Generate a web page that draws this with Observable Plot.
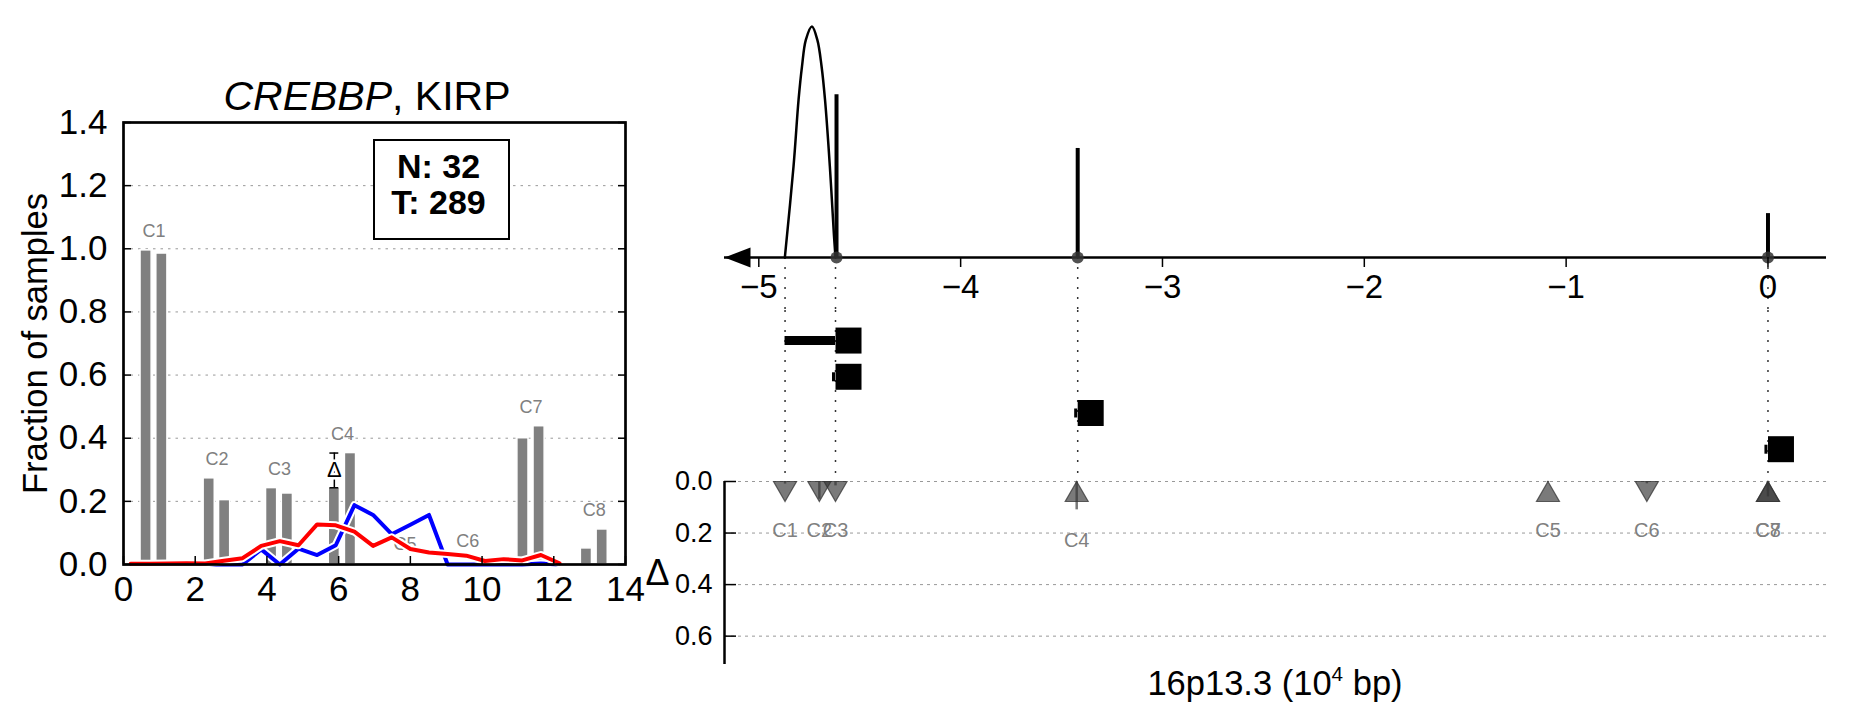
<!DOCTYPE html>
<html><head><meta charset="utf-8">
<script src="https://cdn.jsdelivr.net/npm/d3@7"></script>
<script src="https://cdn.jsdelivr.net/npm/@observablehq/plot@0.6"></script>
<style>
body{margin:0;background:#fff;}
#page{position:relative;width:1851px;height:718px;overflow:hidden;font-family:"Liberation Sans",Arial,sans-serif;background:#fff;}
#page > svg, #page > div{position:absolute;}
</style></head><body><div id="page"></div>
<script>
// ---------- left panel data ----------
const clusters = ["C1","C2","C3","C4","C5","C6","C7","C8"];
const barCenterA = [0.63, 2.39, 4.13, 5.88, 7.63, 9.38, 11.14, 12.91];
const barCenterB = [1.07, 2.82, 4.57, 6.33, 8.07, 9.82, 11.59, 13.35];
const fracA = [0.995, 0.273, 0.242, 0.243, 0.000, 0.012, 0.400, 0.051];
const fracB = [0.985, 0.204, 0.225, 0.353, 0.004, 0.003, 0.438, 0.111];
const markedCluster = "C4";
const curveX = [0.20,0.72,1.24,1.76,2.28,2.80,3.32,3.84,4.36,4.88,5.40,5.92,6.44,6.96,7.48,8.00,8.52,9.04,9.56,10.08,10.60,11.12,11.64,12.16];
const redY  = [0.002,0.002,0.003,0.004,0.003,0.012,0.020,0.059,0.074,0.061,0.127,0.124,0.104,0.059,0.086,0.049,0.038,0.033,0.028,0.011,0.017,0.013,0.030,0.004];
const blueY = [0,0,0,0,0,0,0,0.048,0,0.050,0.030,0.061,0.188,0.157,0.096,0.126,0.157,0,0,0,0,0,0.003,0];
const countN = 32, countT = 289;
const geneName = "CREBBP", cohort = "KIRP";
const fracTicks = [0,0.2,0.4,0.6,0.8,1.0,1.2,1.4];
const xTicksLeft = [0,2,4,6,8,10,12,14];

// ---------- right panel data ----------
const posTicks = [-5,-4,-3,-2,-1,0];
const densX = [-4.871,-4.828,-4.803,-4.786,-4.767,-4.737,-4.710,-4.689,-4.672,-4.648,-4.628,-4.620];
const densY = [0,0.394,0.683,0.827,0.942,1.0,0.942,0.827,0.683,0.394,0.10,0];
const spikeX = [-4.615,-3.42,0];
const spikeH = [0.705,0.472,0.19];
const guideX = [-4.87,-4.62,-3.42,0];
const rowId = [1,2,3,4];
const rowFrom = [-4.87,-4.635,-3.435,-0.015];
const rowTo = [-4.62,-4.62,-3.42,0];
const clusterPos = [-4.87,-4.70,-4.62,-3.425,-1.09,-0.60,0,0];
const deltaTicks = [0,0.2,0.4,0.6];
const posDomain = [-5.17, 0.29];
const xLabelText = "16p13.3 (10<span style=\"font-size:0.6em;vertical-align:0.7em\">4</span> bp)";

// ---------- helpers ----------
const FONT = "\"Liberation Sans\", Arial, sans-serif";
const baseStyle = {fontFamily: FONT, background: "transparent", overflow: "hidden", color: "black"};
const triUp = {draw(ctx){ctx.moveTo(0,-10);ctx.lineTo(11.5,10);ctx.lineTo(-11.5,10);ctx.closePath();}};
const triDown = {draw(ctx){ctx.moveTo(0,10);ctx.lineTo(11.5,-10);ctx.lineTo(-11.5,-10);ctx.closePath();}};
const arrowLeft = {draw(ctx){ctx.moveTo(0,0);ctx.lineTo(26,-10);ctx.lineTo(26,10);ctx.closePath();}};
const squareSym = {draw(ctx){ctx.rect(-13,-13,26,26);}};
const page = document.getElementById("page");
function place(el, x, y){el.style.left = x + "px"; el.style.top = y + "px"; page.appendChild(el);}

// ---------- left plot ----------
const bars = clusters.flatMap((c,i) => [
  {c, x: barCenterA[i], v: fracA[i]},
  {c, x: barCenterB[i], v: fracB[i]}
]);
const barW = 0.31;
const k = clusters.indexOf(markedCluster);
const bx = barCenterA[k], lo = Math.min(fracA[k], fracB[k]), hi = Math.max(fracA[k], fracB[k]);
const lineData = curveX.map((x,i) => ({x, red: redY[i], blue: blueY[i]}));

const leftPlot = Plot.plot({
  width: 650, height: 640,
  marginLeft: 123, marginRight: 25, marginTop: 122, marginBottom: 76,
  x: {domain: [0,14], label: null},
  y: {domain: [0,1.4], label: null},
  style: baseStyle,
  marks: [
    Plot.ruleY(fracTicks.slice(1,-1), {stroke: "#999", strokeDasharray: "2.5,5", strokeWidth: 1}),
    Plot.rect(bars, {x1: d => d.x - barW/2, x2: d => d.x + barW/2, y1: 0, y2: "v", fill: "#808080", stroke: "white", strokeWidth: 1.5}),
    Plot.text(clusters, {x: (c,i) => (barCenterA[i]+barCenterB[i])/2, y: (c,i) => Math.max(fracA[i], fracB[i]), dy: -19, text: d => d, fill: "#808080", fontSize: 18}),
    Plot.line(lineData, {x: "x", y: "blue", stroke: "white", strokeWidth: 8, strokeLinejoin: "round"}),
    Plot.line(lineData, {x: "x", y: "blue", stroke: "#0000ff", strokeWidth: 4, strokeLinejoin: "round"}),
    Plot.line(lineData, {x: "x", y: "red", stroke: "white", strokeWidth: 8, strokeLinejoin: "round"}),
    Plot.line(lineData, {x: "x", y: "red", stroke: "#ff0000", strokeWidth: 4, strokeLinejoin: "round"}),
    Plot.ruleX([markedCluster], {x: bx, y1: lo, y2: hi, strokeWidth: 1.5}),
    Plot.ruleY([lo, hi], {x1: bx - barW*0.4, x2: bx + barW*0.4, strokeWidth: 1.5}),
    Plot.text(["Δ"], {x: bx, y: (lo+hi)/2, fontSize: 22, fill: "black", stroke: "white", strokeWidth: 5, paintOrder: "stroke"}),
    Plot.frame({strokeWidth: 2.7}),
    Plot.axisX({ticks: xTicksLeft, tickSize: -8, tickPadding: 20, fontSize: 35, strokeWidth: 1.5, tickFormat: d3.format("d")}),
    Plot.axisY({ticks: fracTicks, tickSize: -8, tickPadding: 24, fontSize: 35, strokeWidth: 1.5, tickFormat: d3.format(".1f")}),
    Plot.axisY({anchor: "right", ticks: fracTicks, tickSize: -8, strokeWidth: 1.5, tickFormat: () => ""}),
    Plot.text(["Fraction of samples"], {frameAnchor: "left", dx: -88, rotate: -90, textAnchor: "middle", fontSize: 34.5})
  ]
});
place(leftPlot, 0, 0);

// title
const title = document.createElement("div");
title.style.cssText = "width:502px;text-align:center;font-size:41px;line-height:1;white-space:nowrap;";
title.innerHTML = `<i>${geneName}</i>, ${cohort}`;
place(title, 116, 76);

// N/T box
const box = document.createElement("div");
box.style.cssText = "box-sizing:border-box;width:137px;height:101px;border:2.5px solid black;background:white;text-align:center;font-weight:bold;font-size:34px;line-height:36px;padding-top:7px;padding-right:6px;";
box.innerHTML = `N: ${countN}<br>T: ${countT}`;
place(box, 373, 139);

// ---------- right: top (density + axis) ----------
const densData = densX.map((x,i) => ({x, y: densY[i]}));
const spikes = spikeX.map((x,i) => ({x, h: spikeH[i]}));
const dotted = {stroke: "#333", strokeDasharray: "2,8", strokeWidth: 1.5};
const topPlot = Plot.plot({
  width: 1221, height: 310,
  marginLeft: 94, marginRight: 25, marginTop: 26, marginBottom: 53,
  x: {domain: posDomain, label: null},
  y: {domain: [0,1], axis: null},
  style: baseStyle,
  marks: [
    Plot.ruleX(guideX, {y1: 0, y2: 0, insetBottom: -60, ...dotted}),
    Plot.line(densData, {x: "x", y: "y", strokeWidth: 2.5, curve: "catmull-rom"}),
    Plot.ruleX(spikes, {x: "x", y1: 0, y2: "h", strokeWidth: 4}),
    Plot.ruleY([0], {strokeWidth: 2.5}),
    Plot.dot([posDomain[0]], {x: d => d, y: 0, symbol: arrowLeft, fill: "black", stroke: "none"}),
    Plot.dot(spikes, {x: "x", y: 0, r: 6, fill: "#333", fillOpacity: 0.85, stroke: "none"}),
    Plot.axisX({ticks: posTicks, tickSize: 10, tickPadding: 7, fontSize: 33, strokeWidth: 1.5, tickFormat: d3.format("d")})
  ]
});
place(topPlot, 630, 0);

// ---------- right: middle (segments) ----------
const rows = rowId.map((r,i) => ({r, from: rowFrom[i], to: rowTo[i]}));
const midPlot = Plot.plot({
  width: 1221, height: 155,
  marginLeft: 94, marginRight: 25, marginTop: 0, marginBottom: 0,
  x: {domain: posDomain, axis: null},
  y: {domain: [0.17, 4.45], reverse: true, axis: null},
  style: baseStyle,
  marks: [
    Plot.ruleX(guideX, dotted),
    Plot.ruleY(rows, {y: "r", x1: "from", x2: "to", strokeWidth: 9}),
    Plot.dot(rows, {x: "to", y: "r", symbol: squareSym, fill: "black", stroke: "none", dx: 13})
  ]
});
place(midPlot, 630, 310);

// ---------- right: bottom (delta) ----------
const markers = clusters.map((c,i) => ({
  c, x: clusterPos[i], up: fracB[i] >= fracA[i], delta: Math.abs(fracB[i] - fracA[i])
}));
const triStyle = {fill: "#333", fillOpacity: 0.65, stroke: "#333", strokeOpacity: 0.75, strokeWidth: 1.2};
const botPlot = Plot.plot({
  width: 1221, height: 253,
  marginLeft: 94, marginRight: 25, marginTop: 16, marginBottom: 54,
  x: {domain: posDomain, axis: null},
  y: {domain: [0, 0.71], reverse: true, label: null},
  style: baseStyle,
  marks: [
    Plot.ruleY(deltaTicks, {stroke: "#999", strokeDasharray: "3,4", strokeWidth: 1}),
    Plot.ruleX(guideX, {y1: 0, y2: 0, insetTop: -20, ...dotted}),
    Plot.ruleX(markers, {x: "x", y1: 0, y2: "delta", stroke: "#777", strokeWidth: 2.5}),
    Plot.dot(markers.filter(d => d.up), {x: "x", y: 0, dy: 10, symbol: triUp, ...triStyle}),
    Plot.dot(markers.filter(d => !d.up), {x: "x", y: 0, dy: 10, symbol: triDown, ...triStyle}),
    Plot.text(markers, {x: "x", y: d => Math.max(d.delta, 0.07), dy: 31, text: "c", fill: "#808080", fontSize: 20}),
    Plot.ruleX([posDomain[0]], {strokeWidth: 2.5}),
    Plot.axisY({ticks: deltaTicks, tickSize: -12, tickPadding: 24, fontSize: 27, strokeWidth: 1.5, tickFormat: d3.format(".1f")}),
    Plot.text(["Δ"], {frameAnchor: "left", dx: -67, textAnchor: "middle", fontSize: 36})
  ]
});
place(botPlot, 630, 465);

// x label
const xl = document.createElement("div");
xl.style.cssText = "width:600px;text-align:center;font-size:34.5px;line-height:1;white-space:nowrap;";
xl.innerHTML = xLabelText;
place(xl, 975, 664);
</script></body></html>
